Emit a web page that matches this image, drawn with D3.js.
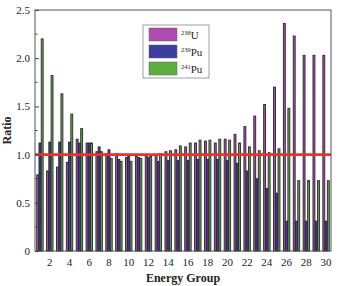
<!DOCTYPE html>
<html>
<head>
<meta charset="utf-8">
<script src="https://cdn.jsdelivr.net/npm/d3@7"></script>
<style>
  body { margin: 0; background: #fff; }
  svg text { font-family: "Liberation Serif", "DejaVu Serif", serif !important; }
</style>
</head>
<body>
<div id="chart"></div>
<script>
// data
var groups = d3.range(1, 31);
var seriesNames = ["238U", "239Pu", "241Pu"];
var seriesMass = ["238", "239", "241"];
var seriesElem = ["U", "Pu", "Pu"];
var seriesColors = ["#b04cb0", "#3d3d9c", "#5cae3e"];

var u238 = [0.79, 0.83, 0.87, 0.92, 1.16, 1.12, 1.03, 1.01, 1.01, 0.97,
            0.98, 0.98, 1.00, 1.03, 1.05, 1.08, 1.12, 1.14, 1.12, 1.16,
            1.21, 1.29, 1.40, 1.52, 1.70, 2.36, 2.23, 2.03, 2.03, 2.03];
var pu239 = [1.12, 1.13, 1.13, 1.13, 1.12, 1.12, 1.08, 1.05, 0.95, 0.98,
             0.97, 0.97, 0.93, 0.94, 0.94, 0.94, 0.95, 0.95, 0.95, 0.94,
             0.91, 0.83, 0.75, 0.65, 0.60, 0.31, 0.31, 0.31, 0.31, 0.31];
var pu241 = [2.20, 1.82, 1.63, 1.42, 1.27, 1.12, 1.03, 0.96, 0.93, 0.93,
             0.96, 0.98, 1.01, 1.04, 1.09, 1.12, 1.15, 1.15, 1.16, 1.15,
             1.12, 1.08, 1.04, 1.02, 1.06, 1.48, 0.73, 0.73, 0.73, 0.73];
var yTicks = [0, 0.5, 1.0, 1.5, 2.0, 2.5];
var xTicks = [2, 4, 6, 8, 10, 12, 14, 16, 18, 20, 22, 24, 26, 28, 30];
var refLine = 1.0;

var values = [u238, pu239, pu241];

// set the dimensions and margins of the graph
var margin = {top: 10, right: 11, bottom: 35, left: 35},
    width = 342 - margin.left - margin.right,
    height = 286 - margin.top - margin.bottom;

var svg = d3.select("#chart")
  .append("svg")
    .attr("width", width + margin.left + margin.right)
    .attr("height", height + margin.top + margin.bottom)
  .append("g")
    .attr("transform", "translate(" + margin.left + "," + margin.top + ")");

var x = d3.scaleBand()
  .domain(groups)
  .range([0, width])
  .paddingInner(0.28)
  .paddingOuter(0.14);

var xs = d3.scaleBand()
  .domain(d3.range(3))
  .range([0, x.bandwidth()])
  .padding(0.15);

var y = d3.scaleLinear()
  .domain([0, 2.5])
  .range([height, 0]);

// bars
var rows = [];
groups.forEach(function(g, i) {
  values.forEach(function(s, k) {
    rows.push({group: g, k: k, value: s[i]});
  });
});

svg.selectAll("rect.bar")
  .data(rows)
  .enter()
  .append("rect")
    .attr("class", "bar")
    .attr("x", function(d) { return x(d.group) + xs(d.k); })
    .attr("y", function(d) { return y(d.value); })
    .attr("width", xs.bandwidth())
    .attr("height", function(d) { return height - y(d.value); })
    .attr("fill", function(d) { return seriesColors[d.k]; })
    .attr("stroke", "#2a2630")
    .attr("stroke-width", 0.9);

// red reference line
svg.append("line")
  .attr("x1", 0)
  .attr("x2", width)
  .attr("y1", y(refLine))
  .attr("y2", y(refLine))
  .attr("stroke", "#e8322c")
  .attr("stroke-width", 2.6);

// frame
svg.append("rect")
  .attr("x", 0).attr("y", 0)
  .attr("width", width).attr("height", height)
  .attr("fill", "none")
  .attr("stroke", "#555")
  .attr("stroke-width", 1);

// Y axis
var yAxis = svg.append("g")
  .call(d3.axisLeft(y).tickValues(yTicks).tickSize(-4).tickPadding(5)
    .tickFormat(function(d) { return d === 0 ? "0" : d.toFixed(1); }));
yAxis.select(".domain").remove();
yAxis.selectAll("line").attr("stroke", "#444");
yAxis.selectAll("text").style("font-size", "11px").attr("fill", "#222");

// minor y ticks
svg.append("g").selectAll("line")
  .data(d3.range(0.25, 2.5, 0.5))
  .enter().append("line")
    .attr("x1", 0).attr("x2", 2.5)
    .attr("y1", function(d) { return y(d); })
    .attr("y2", function(d) { return y(d); })
    .attr("stroke", "#444");

// X axis
var xAxis = svg.append("g")
  .attr("transform", "translate(0," + height + ")")
  .call(d3.axisBottom(x).tickValues(xTicks).tickSize(0).tickPadding(7));
xAxis.select(".domain").remove();
xAxis.selectAll("text").style("font-size", "11px").attr("fill", "#222");

// axis titles
svg.append("text")
  .attr("x", width / 2)
  .attr("y", height + 31)
  .attr("text-anchor", "middle")
  .style("font-size", "12px")
  .style("font-weight", "bold")
  .attr("fill", "#222")
  .text("Energy Group");

svg.append("text")
  .attr("transform", "translate(" + (-24) + "," + (height / 2) + ")rotate(-90)")
  .attr("text-anchor", "middle")
  .style("font-size", "12px")
  .style("font-weight", "bold")
  .attr("fill", "#222")
  .text("Ratio");

// legend
var legend = svg.append("g")
  .attr("transform", "translate(108,15)");
legend.append("rect")
  .attr("width", 66).attr("height", 53)
  .attr("fill", "#fff")
  .attr("stroke", "#888")
  .attr("stroke-width", 0.8);

var item = legend.selectAll("g.item")
  .data(seriesNames)
  .enter().append("g")
    .attr("class", "item")
    .attr("transform", function(d, i) { return "translate(6," + (3 + i * 17) + ")"; });
item.append("rect")
  .attr("width", 28).attr("height", 13)
  .attr("fill", function(d, i) { return seriesColors[i]; })
  .attr("stroke", "#666")
  .attr("stroke-width", 0.5);
var lbl = item.append("text")
  .attr("x", 32)
  .attr("y", 11)
  .attr("fill", "#222");
lbl.append("tspan")
  .style("font-size", "6.5px")
  .attr("dy", -4)
  .text(function(d, i) { return seriesMass[i]; });
lbl.append("tspan")
  .style("font-size", "11px")
  .attr("dy", 4)
  .text(function(d, i) { return seriesElem[i]; });
</script>
</body>
</html>
